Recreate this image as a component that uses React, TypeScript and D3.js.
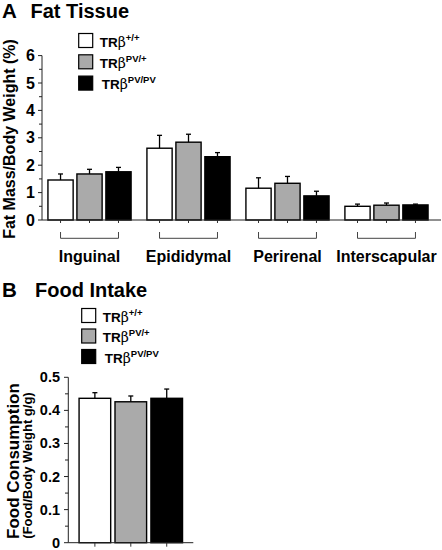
import React from "react";
import * as d3 from "d3";

const groups = ["Inguinal", "Epididymal", "Perirenal", "Interscapular"];
const genotypes = ["+/+", "PV/+", "PV/PV"];
const fatWT = [1.46, 2.62, 1.16, 0.5];
const fatWTErr = [0.22, 0.47, 0.38, 0.08];
const fatHet = [1.68, 2.84, 1.34, 0.54];
const fatHetErr = [0.17, 0.29, 0.25, 0.08];
const fatHomo = [1.76, 2.31, 0.88, 0.55];
const fatHomoErr = [0.16, 0.15, 0.17, 0.03];
const food = [0.4365, 0.426, 0.4365];
const foodErr = [0.017, 0.0175, 0.028];
const fatTicks = [0, 1, 2, 3, 4, 5, 6];
const foodTicks = [0, 0.1, 0.2, 0.3, 0.4, 0.5];

const fills = ["#ffffff", "#aaaaaa", "#000000"];
const FONT = "'Liberation Sans', Arial, Helvetica, sans-serif";

const fatSeries = [
  { vals: fatWT, errs: fatWTErr },
  { vals: fatHet, errs: fatHetErr },
  { vals: fatHomo, errs: fatHomoErr },
];

function Legend({ x, y, step }: { x: number; y: number; step: number }) {
  return (
    <g>
      {genotypes.map((g, i) => (
        <g key={g} transform={`translate(${x},${y + i * step})`}>
          <rect x={0} y={0} width={14} height={14} fill={fills[i]} stroke="#000" strokeWidth={1.2} />
          <text x={i === 2 ? 23 : 21} y={13} fontFamily={FONT} fontSize={13.5} fill="#000">
            <tspan fontWeight="bold">TR</tspan>
            <tspan fontFamily="'DejaVu Serif', serif" fontSize={14}>β</tspan>
            <tspan fontWeight="bold" fontSize={9.5} dy={-6}>{g}</tspan>
          </text>
        </g>
      ))}
    </g>
  );
}

export default function App() {
  // Panel A scales
  const yA = d3.scaleLinear().domain([0, 6]).range([220, 55.6]);
  const xGroup = d3.scaleBand<string>().domain(groups).range([42, 434]).paddingInner(0.16).paddingOuter(0.06);
  const xSub = d3.scaleBand<string>().domain(genotypes).range([0, xGroup.bandwidth()]).paddingInner(0.13);
  const minorA = d3.range(0, 6.01, 0.5);

  // Panel B scales
  const yB = d3.scaleLinear().domain([0, 0.5]).range([542.7, 377.3]);
  const xB = d3.scaleBand<string>().domain(genotypes).range([68.3, 193.3]).paddingInner(0.12).paddingOuter(0.3);
  const minorB = d3.range(0, 0.501, 0.05);

  return (
    <svg
      width={442}
      height={550}
      style={{ position: "absolute", left: 0, top: 0, background: "#fff" }}
      fontFamily={FONT}
    >
      {/* Panel A title */}
      <text x={2} y={17.5} fontSize={20.5} fontWeight="bold">A</text>
      <text x={30.5} y={17.5} fontSize={20} fontWeight="bold">Fat Tissue</text>
      <Legend x={78.7} y={33.5} step={21.3} />

      {/* Panel A y-axis */}
      <line x1={42} x2={42} y1={yA(0)} y2={yA(6)} stroke="#222" strokeWidth={1} />
      {minorA.map((t) => (
        <line key={t} x1={Number.isInteger(t) ? 38 : 39} x2={42} y1={yA(t)} y2={yA(t)} stroke="#222" strokeWidth={1} />
      ))}
      {fatTicks.map((t) => (
        <text key={t} x={35} y={yA(t) + 5.5} fontSize={16} fontWeight="bold" textAnchor="end">{t}</text>
      ))}
      <text transform={`translate(15,139) rotate(-90)`} fontSize={16} fontWeight="bold" textAnchor="middle">
        Fat Mass/Body Weight (%)
      </text>

      {/* Panel A bars */}
      {groups.map((g, gi) => {
        const gx = xGroup(g)!;
        return (
          <g key={g}>
            {genotypes.map((s, si) => {
              const v = fatSeries[si].vals[gi];
              const e = fatSeries[si].errs[gi];
              const bx = gx + xSub(s)!;
              const bw = xSub.bandwidth();
              const cx = bx + bw / 2;
              return (
                <g key={s}>
                  <line x1={cx} x2={cx} y1={yA(v)} y2={yA(v + e)} stroke="#000" strokeWidth={1.3} />
                  <line x1={cx - 2.5} x2={cx + 2.5} y1={yA(v + e)} y2={yA(v + e)} stroke="#000" strokeWidth={1.3} />
                  <rect x={bx} y={yA(v)} width={bw} height={yA(0) - yA(v)} fill={fills[si]} stroke="#000" strokeWidth={1.4} />
                  <line x1={cx} x2={cx} y1={yA(0)} y2={yA(0) + 3} stroke="#333" strokeWidth={1} />
                </g>
              );
            })}
            {(() => {
              const x1 = gx + xSub(genotypes[0])! + xSub.bandwidth() / 2;
              const x2 = gx + xSub(genotypes[2])! + xSub.bandwidth() / 2;
              return (
                <path
                  d={`M${x1},232 V238.3 H${x2} V232`}
                  fill="none"
                  stroke="#444"
                  strokeWidth={1}
                />
              );
            })()}
            <text x={gx + xGroup.bandwidth() / 2} y={262} fontSize={16} fontWeight="bold" textAnchor="middle">
              {g}
            </text>
          </g>
        );
      })}
      <line x1={42} x2={441} y1={yA(0)} y2={yA(0)} stroke="#222" strokeWidth={1} />

      {/* Panel B title */}
      <text x={2} y={296.7} fontSize={20.5} fontWeight="bold">B</text>
      <text x={35} y={296.7} fontSize={20} fontWeight="bold">Food Intake</text>
      <Legend x={81.7} y={308.5} step={20.5} />

      {/* Panel B y-axis */}
      <line x1={68.3} x2={68.3} y1={yB(0)} y2={yB(0.5)} stroke="#222" strokeWidth={1} />
      {minorB.map((t, i) => (
        <line key={i} x1={i % 2 === 0 ? 64 : 65} x2={68.3} y1={yB(t)} y2={yB(t)} stroke="#222" strokeWidth={1} />
      ))}
      {foodTicks.map((t) => (
        <text key={t} x={60} y={yB(t) + 5} fontSize={14.5} fontWeight="bold" textAnchor="end">
          {t === 0 ? "0" : d3.format(".1f")(t)}
        </text>
      ))}
      <text transform={`translate(18.5,461) rotate(-90)`} fontSize={17} fontWeight="bold" textAnchor="middle">
        Food Consumption
      </text>
      <text transform={`translate(32,465.5) rotate(-90)`} fontSize={13} fontWeight="bold" textAnchor="middle">
        (Food/Body Weight g/g)
      </text>

      {/* Panel B bars */}
      {genotypes.map((s, si) => {
        const v = food[si];
        const e = foodErr[si];
        const bx = xB(s)!;
        const bw = xB.bandwidth();
        const cx = bx + bw / 2;
        return (
          <g key={s}>
            <line x1={cx} x2={cx} y1={yB(v)} y2={yB(v + e)} stroke="#000" strokeWidth={1.3} />
            <line x1={cx - 2.5} x2={cx + 2.5} y1={yB(v + e)} y2={yB(v + e)} stroke="#000" strokeWidth={1.3} />
            <rect x={bx} y={yB(v)} width={bw} height={yB(0) - yB(v)} fill={fills[si]} stroke="#000" strokeWidth={1.4} />
            <line x1={cx} x2={cx} y1={yB(0)} y2={yB(0) + 4} stroke="#333" strokeWidth={1} />
          </g>
        );
      })}
      <line x1={68.3} x2={193.3} y1={yB(0)} y2={yB(0)} stroke="#222" strokeWidth={1} />
    </svg>
  );
}
